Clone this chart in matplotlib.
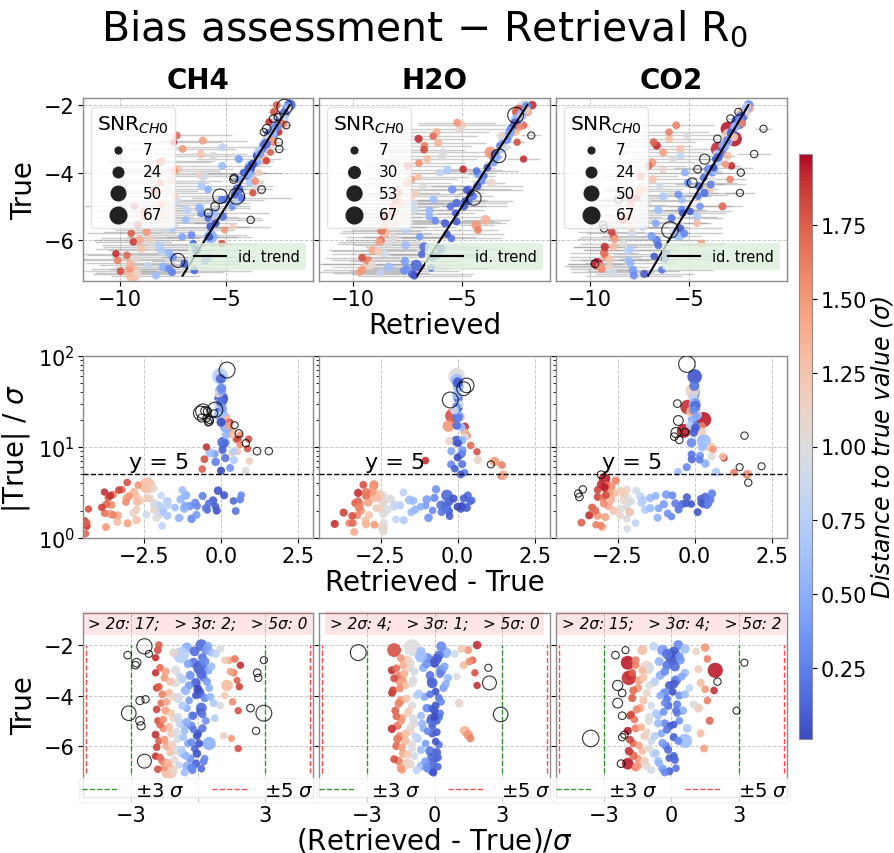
import numpy as np
import matplotlib
matplotlib.use('Agg')
import matplotlib.pyplot as plt
from matplotlib.lines import Line2D
from matplotlib.cm import ScalarMappable

# ---------------- data (true value, normalized deviation (R-T)/sigma, sigma, SNR) ----------------
gases = ["CH4", "H2O", "CO2"]

ch4_true = [-2.0, -2.1, -2.2, -2.3, -2.4, -2.5, -2.6, -2.7, -2.8, -2.9, -3.0, -3.1, -3.2, -3.3, -3.4, -3.5,
            -3.6, -3.7, -3.8, -3.9, -4.0, -4.1, -4.2, -4.3, -4.5, -4.6, -4.8, -5.0, -5.2, -5.5, -5.7, -5.9,
            -6.1, -2.3, -3.0, -4.4, -2.6, -2.5, -2.2, -2.0,
            -2.05, -2.15, -2.25, -2.35, -2.55, -2.65, -2.75, -2.85, -3.05, -3.15, -3.35, -3.45, -3.65, -3.75,
            -4.05, -4.25, -4.65, -4.9, -5.3, -5.6,
            -2.05, -2.4, -2.7, -2.8, -4.2, -4.15, -4.7, -5.0, -5.2, -6.6, -2.6, -3.1, -3.3, -4.5, -4.7, -5.4, -2.35,
            -7.0, -6.95, -6.9, -6.8, -6.7, -6.6, -6.5, -6.4, -6.3, -6.2, -6.1, -6.0, -5.9, -5.8, -5.7, -5.6,
            -5.5, -5.4, -5.3, -5.2, -5.1, -5.0, -4.9, -4.8, -4.6, -4.5, -4.3, -4.1, -3.9, -3.7, -3.5, -3.3,
            -3.1, -2.9, -6.85, -4.0, -3.6,
            -7.05, -6.98, -6.92, -6.85, -6.75, -6.68, -6.62, -6.55, -6.45, -6.38, -6.25, -6.15, -6.05, -5.95,
            -5.85, -5.75, -5.65, -5.55, -5.45, -5.35, -5.25, -5.15, -5.05, -4.95, -4.85, -4.7, -4.55, -4.4,
            -4.25, -4.05, -3.95, -3.8, -3.65, -3.45, -3.25, -3.05, -6.5, -5.9, -4.75, -6.3]
ch4_dev = [0.15, -0.5, 0.35, 0.6, -0.75, 0.2, 1.4, -0.2, 1.9, 0.1, 0.45, 1.6, -0.35, 0.25, 1.75, -0.1,
           1.3, 0.5, -0.55, 0.05, 1.2, 0.3, -0.4, 0.7, 0.15, 1.8, -0.25, 0.35, -0.6, 0.0, 1.5, 0.5,
           1.8, -1.1, -1.0, 1.0, 1.2, -1.9, -1.8, -1.75,
           0.45, 1.0, -0.15, 0.8, 1.65, 0.3, -0.45, 0.6, 1.45, 0.15, -0.7, 0.4, 1.85, 0.0,
           0.55, 1.55, 0.1, 0.75, 0.2, 1.15,
           -2.4, -3.15, -2.75, -2.8, -2.6, -2.35, -3.1, -2.6, -2.55, -2.4, 2.95, 2.65, 2.7, 2.35, 2.95, 2.6, -2.2,
           -1.3, -0.25, 0.15, -0.5, -0.1, -1.6, -0.35, -1.9, -0.7, -1.0, -0.15, -1.4, -0.45, -1.75, -0.9, -0.05,
           -1.2, -0.6, -1.55, -0.3, -0.8, -1.8, -1.1, -0.2, -1.45, -0.5, -1.65, -0.9, -1.3, -1.85, -1.0, -1.5,
           -1.9, -1.7, -1.5, -0.1, -0.4,
           -0.6, -1.1, -1.8, -0.3, -0.85, -1.35, 0.25, -1.05, -1.7, -0.55, -1.25, -0.75, -1.85, -1.15,
           -0.3, -1.5, -0.65, -1.9, -0.95, -0.2, -1.3, -1.7, -0.5, -1.55, -0.9, -1.2, -1.85, -0.7,
           -1.4, -1.1, -1.6, -0.6, -1.75, -1.25, -0.8, -1.45, 0.3, 0.05, 0.2, -0.05]
ch4_sigma = [0.06, 0.05, 0.07, 0.09, 0.04, 0.08, 0.12, 0.10, 0.15, 0.085, 0.11, 0.20, 0.13, 0.11, 0.28, 0.14,
             0.25, 0.33, 0.17, 0.12, 0.45, 0.38, 0.5, 0.6, 0.4, 0.48, 0.7, 0.85, 0.6, 1.0, 0.42, 0.35,
             0.5, 0.06, 0.10, 0.8, 0.3, 0.25, 0.3, 0.35,
             0.05, 0.08, 0.04, 0.1, 0.14, 0.06, 0.09, 0.12, 0.18, 0.1, 0.15, 0.13, 0.3, 0.2,
             0.3, 0.4, 0.5, 0.55, 0.7, 0.8,
             0.08, 0.12, 0.14, 0.15, 0.17, 0.2, 0.19, 0.2, 0.25, 0.28, 0.15, 0.22, 0.3, 0.5, 0.067, 0.6, 0.1,
             1.85, 2.4, 2.7, 2.3, 2.6, 2.2, 2.9, 2.0, 2.5, 2.3, 3.0, 2.2, 2.6, 2.1, 2.4, 2.8,
             2.0, 2.5, 2.3, 3.2, 2.2, 2.4, 2.6, 2.0, 2.5, 2.7, 2.3, 2.2, 2.6, 2.4, 2.1, 2.5,
             2.3, 2.6, 1.8, 1.8, 2.0,
             2.1, 2.0, 1.7, 2.8, 2.3, 2.1, 2.5, 2.6, 1.9, 2.4, 2.2, 2.7, 1.8, 2.3,
             2.6, 2.0, 2.9, 1.9, 2.3, 2.5, 2.1, 2.2, 2.4, 2.0, 2.7, 2.3, 2.1, 2.5,
             2.4, 2.0, 2.2, 2.3, 2.5, 2.2, 2.4, 2.1, 2.2, 2.0, 2.4, 1.9]
ch4_snr = [30, 22, 18, 12, 62, 15, 10, 20, 9, 45, 14, 10, 16, 12, 8, 20,
           30, 11, 18, 25, 9, 13, 10, 12, 26, 9, 14, 11, 16, 12, 8, 40,
           9, 14, 16, 11, 10, 9, 11, 10,
           14, 12, 20, 11, 10, 18, 13, 12, 10, 22, 14, 12, 9, 16,
           11, 10, 12, 11, 13, 10,
           55, 10, 14, 9, 12, 9, 50, 14, 12, 45, 8, 10, 9, 10, 60, 9, 8,
           60, 12, 10, 16, 14, 11, 13, 9, 15, 12, 10, 14, 11, 10, 16, 12,
           13, 10, 11, 14, 18, 9, 12, 10, 13, 11, 10, 20, 12, 10, 14, 11,
           9, 10, 10, 10, 12,
           11, 13, 10, 12, 10, 14, 11, 12, 10, 13, 11, 12, 10, 14,
           11, 12, 10, 11, 13, 10, 12, 11, 14, 10, 12, 11, 10, 13,
           12, 10, 11, 12, 10, 13, 11, 12, 10, 12, 11, 14]

h2o_true = [-2.1, -2.3, -2.0, -2.2, -2.4, -2.5, -2.6, -2.2, -2.7, -2.8, -2.9, -3.0, -3.1, -3.2, -3.3,
            -3.5, -3.7, -3.9, -4.1, -4.3, -4.5, -4.7, -5.0, -3.4, -2.9, -3.6, -5.4, -5.55, -2.45,
            -2.05, -2.15, -2.25, -2.35, -2.55, -2.65, -2.75, -2.85, -3.05, -3.15, -3.25, -3.45, -3.55, -3.85,
            -4.05, -4.25, -4.6, -4.85, -5.2, -5.7,
            -2.3, -2.9, -3.5, -4.75,
            -7.0, -6.9, -6.8, -6.7, -6.6, -6.5, -6.4, -6.3, -6.2, -6.1, -6.0, -5.9, -5.8, -5.7, -5.6,
            -5.5, -5.4, -5.3, -5.2, -5.1, -5.0, -4.9, -4.8, -4.7, -4.6, -4.5, -4.4, -4.2, -4.0, -3.8,
            -3.6, -3.4, -3.2, -3.0, -2.8, -2.6, -6.95, -6.75, -5.95, -6.25, -4.4, -4.9,
            -7.05, -6.97, -6.88, -6.82, -6.72, -6.62, -6.52, -6.42, -6.33, -6.15, -6.05, -5.92, -5.82, -5.72,
            -5.62, -5.52, -5.42, -5.32, -5.22, -5.12, -5.02, -4.92, -4.82, -4.62, -4.52, -4.32, -4.12, -3.92,
            -3.72, -3.52, -3.32, -3.12, -2.92, -2.72, -2.52, -6.45, -5.45, -4.85, -3.95, -6.85]
h2o_dev = [-1.0, 0.5, 1.9, 1.5, 0.2, -0.3, 1.7, -1.8, 0.0, 1.3, -0.5, 0.3, 1.8, -0.2, 0.6,
           -0.1, 0.4, -1.9, 0.2, 1.1, -0.3, 0.25, 0.1, -1.5, -1.1, 1.9, 1.35, 1.5, -0.6,
           0.3, 1.2, -0.6, 0.9, 0.1, 1.55, -0.35, 0.45, -0.9, 0.25, 1.0, -0.15, 0.5, 0.05,
           -0.45, 0.3, 0.0, 0.2, -0.1, 1.6,
           -3.4, 2.4, 2.45, 2.95,
           -0.1, -0.3, -0.6, -1.2, -1.6, 0.05, -0.9, -1.4, -0.2, -1.0, -1.7, -0.4, -1.3, -0.75, -1.55,
           -0.1, -1.1, -0.5, -1.65, -0.9, -0.2, -1.45, -0.6, -1.2, -1.75, -0.35, -1.0, -1.5, -0.8, -1.85,
           -1.3, -0.95, -1.6, -1.9, -1.4, -1.2, -1.45, -0.15, 0.2, 0.1, 0.05, -0.15,
           -0.05, -0.8, -1.5, 0.15, -1.05, -0.4, -1.8, -0.15, -1.2, -0.6, -1.45, -1.0, 0.05, -1.65,
           -0.85, -1.3, -0.3, -1.9, -1.05, -0.55, -1.5, -0.95, -1.7, -1.15, -0.1, -1.6, -1.25, -0.7,
           -1.55, -1.0, -1.8, -1.35, -1.7, -1.05, -1.5, 0.15, 0.1, 0.0, -0.2, -0.35]
h2o_sigma = [0.035, 0.05, 0.12, 0.15, 0.07, 0.09, 0.25, 0.1, 0.1, 0.2, 0.12, 0.14, 0.35, 0.15, 0.2,
             0.3, 0.4, 0.55, 0.5, 0.6, 0.7, 0.9, 1.0, 0.2, 0.25, 0.75, 1.1, 0.8, 0.045,
             0.04, 0.1, 0.06, 0.08, 0.05, 0.2, 0.1, 0.13, 0.12, 0.15, 0.25, 0.2, 0.3, 0.35,
             0.45, 0.5, 0.6, 0.75, 0.9, 0.9,
             0.07, 0.45, 0.08, 0.1,
             2.8, 2.5, 2.6, 2.2, 1.7, 2.9, 2.4, 2.0, 2.7, 2.3, 1.6, 2.6, 2.1, 2.5, 1.9,
             2.8, 2.2, 2.4, 1.8, 2.3, 2.6, 2.0, 2.5, 2.2, 1.9, 2.7, 2.4, 2.1, 2.5, 2.0,
             2.3, 2.6, 2.2, 2.1, 2.4, 2.0, 1.9, 2.3, 2.3, 2.9, 2.1, 2.3,
             2.6, 2.2, 1.8, 2.7, 2.3, 2.5, 1.7, 2.8, 2.1, 2.4, 1.9, 2.2, 2.6, 1.8,
             2.4, 2.0, 2.7, 1.7, 2.3, 2.5, 2.1, 2.4, 1.9, 2.2, 2.6, 2.0, 2.3, 2.5,
             2.1, 2.4, 1.9, 2.2, 2.0, 2.3, 1.8, 2.2, 2.0, 2.2, 1.9, 2.0]
h2o_snr = [67, 25, 14, 12, 18, 16, 10, 45, 20, 12, 14, 22, 9, 15, 13,
           24, 12, 10, 11, 14, 12, 10, 11, 30, 12, 9, 20, 18, 35,
           20, 12, 16, 11, 22, 10, 14, 12, 13, 11, 10, 14, 12, 11,
           12, 10, 11, 12, 10, 11,
           60, 8, 45, 50,
           14, 12, 16, 22, 13, 11, 12, 14, 18, 11, 12, 10, 15, 13, 11,
           12, 16, 10, 12, 14, 11, 13, 12, 10, 11, 14, 12, 15, 10, 12,
           11, 13, 10, 12, 11, 14, 10, 30, 10, 14, 12, 13,
           12, 11, 13, 10, 12, 14, 11, 10, 12, 13, 11, 12, 10, 14,
           11, 12, 10, 13, 11, 12, 10, 14, 11, 12, 10, 13, 11, 12,
           10, 12, 11, 13, 10, 12, 11, 12, 11, 12, 10, 13]

co2_true = [-2.0, -2.1, -2.2, -2.3, -2.7, -3.3, -3.0, -2.5, -2.9, -2.6, -2.8, -3.1, -3.2, -3.4, -3.5,
            -3.6, -3.7, -3.8, -3.9, -4.0, -4.2, -4.4, -4.6, -4.8, -5.0, -5.3, -5.8, -6.1, -2.2, -4.5,
            -2.05, -2.15, -2.25, -2.35, -2.45, -2.55, -2.65, -2.85, -2.95, -3.05, -3.25, -3.45, -3.55, -3.75,
            -3.95, -4.15, -4.35, -4.7, -5.1, -5.5,
            -2.2, -2.4, -3.6, -3.9, -4.3, -4.8, -5.55, -5.65, -6.7, -2.7, -3.45, -4.6, -5.7, -3.0, -4.0,
            -7.0, -6.9, -6.8, -6.7, -6.6, -6.5, -6.4, -6.3, -6.2, -6.0, -5.9, -5.8, -5.6, -5.5, -5.3,
            -5.2, -5.0, -4.8, -4.7, -4.5, -4.3, -4.1, -3.9, -3.7, -3.5, -3.2, -3.0, -2.8, -6.85, -5.65,
            -4.6, -6.15, -5.0,
            -7.05, -6.95, -6.88, -6.78, -6.68, -6.58, -6.48, -6.38, -6.28, -6.1, -5.98, -5.88, -5.75, -5.6,
            -5.45, -5.35, -5.25, -5.1, -4.95, -4.85, -4.65, -4.55, -4.4, -4.2, -4.0, -3.8, -3.6, -3.4,
            -3.1, -2.9, -6.55, -5.8, -5.15, -4.35, -3.85, -6.2, -5.4, -4.75, -3.3, -2.6]
co2_dev = [0.3, 1.5, -0.4, 0.1, -1.95, -1.9, 1.95, 0.05, -1.1, 0.4, -0.2, 0.6, -0.5, 0.2, 1.3,
           -0.1, 0.8, 1.9, -0.3, 0.35, 1.6, -0.15, 0.5, -0.6, 1.7, 0.7, 0.6, 1.45, -1.3, 1.2,
           -0.8, 0.6, 1.1, -0.2, 0.35, 1.6, -0.55, 0.15, 1.2, -0.3, 0.45, -0.75, 0.1, 1.5,
           0.6, -0.2, 1.0, 0.25, -0.3, 1.3,
           -2.05, -2.5, -2.4, -2.2, -2.4, -2.2, -2.1, -2.2, -2.25, 3.25, 2.05, 2.9, -3.6, -5.6, 5.4,
           -0.1, -0.4, -1.1, -1.95, -0.6, -1.5, 0.1, -0.8, -1.3, -0.25, -1.7, -0.9, -1.2, -0.45, -1.6,
           -0.05, -1.0, -1.85, -0.7, -1.4, -0.3, -1.75, -1.1, -1.5, -0.8, -1.9, -1.3, -1.6, -1.6, 0.1,
           0.2, -0.15, 0.35,
           -0.3, -0.9, 0.2, -1.5, -0.55, -1.2, -0.1, -1.7, -0.7, -1.0, -1.45, -0.4, -1.85, -0.75,
           -1.1, -0.2, -1.35, -0.6, -1.65, -1.0, -0.35, -1.55, -0.9, -1.25, -0.5, -1.7, -1.0, -1.45,
           -1.75, -0.95, 0.15, 0.3, 0.1, 0.25, 0.05, -1.9, -1.95, -1.8, -1.25, -1.6]
co2_sigma = [0.05, 0.1, 0.06, 0.08, 0.18, 0.12, 0.15, 0.042, 0.07, 0.1, 0.12, 0.14, 0.16, 0.2, 0.35,
             0.25, 0.3, 0.5, 0.35, 0.5, 0.8, 0.6, 0.7, 0.9, 1.0, 1.0, 0.5, 1.2, 0.09, 0.45,
             0.06, 0.07, 0.1, 0.05, 0.08, 0.15, 0.09, 0.1, 0.2, 0.12, 0.15, 0.2, 0.22, 0.4,
             0.4, 0.5, 0.55, 0.65, 0.85, 0.7,
             0.15, 0.2, 0.25, 0.3, 0.22, 1.7, 1.8, 1.65, 1.35, 0.45, 0.85, 0.75, 0.07, 0.1, 0.3,
             2.5, 2.3, 2.0, 1.5, 2.4, 1.8, 2.7, 2.2, 2.0, 2.5, 1.7, 2.3, 1.9, 2.6, 1.8,
             2.2, 2.4, 1.7, 2.3, 2.0, 2.5, 1.9, 2.2, 2.1, 2.4, 1.8, 2.3, 2.0, 1.6, 2.1,
             2.0, 2.6, 1.6,
             2.4, 2.1, 2.6, 1.8, 2.3, 2.0, 2.7, 1.7, 2.4, 2.2, 1.9, 2.5, 1.7, 2.3,
             2.1, 2.6, 2.0, 2.4, 1.8, 2.2, 2.5, 1.9, 2.3, 2.1, 2.4, 1.9, 2.2, 2.0,
             2.1, 2.3, 2.3, 1.9, 2.1, 1.8, 2.0, 1.6, 1.5, 1.6, 1.7, 1.9]
co2_snr = [20, 14, 25, 30, 45, 50, 55, 50, 45, 15, 18, 13, 16, 20, 12,
           14, 11, 10, 18, 12, 10, 13, 14, 11, 12, 15, 48, 11, 20, 16,
           15, 18, 11, 22, 14, 10, 16, 20, 11, 14, 12, 13, 15, 10,
           12, 11, 12, 10, 12, 11,
           8, 10, 22, 10, 20, 10, 9, 9, 10, 8, 9, 8, 65, 10, 9,
           12, 14, 11, 30, 13, 10, 12, 15, 11, 13, 10, 12, 14, 11, 12,
           10, 13, 11, 12, 14, 10, 12, 11, 13, 10, 12, 11, 10, 12, 12,
           11, 12, 10,
           11, 12, 10, 13, 11, 12, 10, 14, 11, 12, 10, 13, 11, 12,
           10, 12, 11, 13, 10, 12, 11, 12, 10, 13, 11, 12, 10, 12,
           11, 10, 12, 11, 10, 12, 11, 13, 12, 10, 12, 11]

snr_legend_ch4 = [7, 24, 50, 67]
snr_legend_h2o = [7, 30, 53, 67]
snr_legend_co2 = [7, 24, 50, 67]

datasets = [
    (ch4_true, ch4_dev, ch4_sigma, ch4_snr, snr_legend_ch4),
    (h2o_true, h2o_dev, h2o_sigma, h2o_snr, snr_legend_h2o),
    (co2_true, co2_dev, co2_sigma, co2_snr, snr_legend_co2),
]

row1_xlims = [(-11.75, -0.9), (-11.56, -0.96), (-11.7, -0.05)]

# ---------------- figure ----------------
W, H = 895, 854
fig = plt.figure(figsize=(W / 100, H / 100), dpi=100)


def box(x0, y0, x1, y1):
    return [x0 / W, 1 - y1 / H, (x1 - x0) / W, (y1 - y0) / H]


cols = [(83, 313), (319, 550), (556, 787)]
rows = [(99, 282), (357, 539), (614, 798)]

cmap = plt.get_cmap('coolwarm')
norm = plt.Normalize(0.01, 1.99)
TICK = 15
LAB = 20
spine_col = '#8c8c8c'


def style(ax, show_y):
    for s in ax.spines.values():
        s.set_color(spine_col)
        s.set_linewidth(1.0)
    ax.tick_params(labelsize=TICK, pad=2.5)
    ax.grid(True, ls='--', color='#c8c8c8', lw=0.7)
    ax.set_axisbelow(True)
    if not show_y:
        ax.tick_params(labelleft=False)


def size_of(snr):
    return 2.0 * np.asarray(snr, float) + 10


for j, (gas, (T, dev, sig, snr, leg_vals)) in enumerate(zip(gases, datasets)):
    T = np.asarray(T, float)
    dev = np.asarray(dev, float)
    sig = np.asarray(sig, float)
    snr = np.asarray(snr, float)
    R = T + dev * sig
    diff = R - T
    ratio = np.abs(T) / sig
    dist = np.abs(dev)
    inl = dist <= 2
    out = ~inl
    sz = size_of(snr)
    x0, x1 = cols[j]

    # ---- row 1: Retrieved vs True ----
    ax = fig.add_axes(box(x0, rows[0][0], x1, rows[0][1]))
    style(ax, j == 0)
    ax.errorbar(R, T, xerr=sig, fmt='none', ecolor='gray', alpha=0.4, lw=1.0, zorder=1)
    ax.scatter(R[inl], T[inl], c=dist[inl], cmap=cmap, norm=norm, s=sz[inl], alpha=0.9,
               edgecolors='none', zorder=2)
    ax.scatter(R[out], T[out], s=sz[out], facecolors='none', edgecolors='k', linewidths=0.8,
               alpha=0.8, zorder=3)
    tmin, tmax = T.min(), T.max()
    idl, = ax.plot([tmin, tmax], [tmin, tmax], color='k', lw=1.5, zorder=4)
    ax.set_xlim(*row1_xlims[j])
    ax.set_ylim(-7.21, -1.79)
    ax.set_xticks([-10, -5])
    ax.set_yticks([-6, -4, -2])
    ax.set_title(gas, fontsize=20, fontweight='bold', pad=7)
    if j == 0:
        ax.set_ylabel('True', fontsize=LAB)
    if j == 1:
        ax.set_xlabel('Retrieved', fontsize=LAB, labelpad=1)
    handles = [ax.scatter([], [], s=size_of(v), color='#222222') for v in leg_vals]
    leg1 = ax.legend(handles, [str(v) for v in leg_vals], title='SNR$_{CH0}$', loc='upper left',
                     fontsize=11, title_fontsize=14.5, framealpha=0.8, edgecolor='#dddddd',
                     labelspacing=0.45, borderpad=0.4, handletextpad=0.6,
                     bbox_to_anchor=(0.0, 0.99))
    ax.add_artist(leg1)
    ax.legend([idl], ['id. trend'], loc='lower right', fontsize=10.5, framealpha=0.8,
              facecolor='#dcefdc', edgecolor='none', handlelength=2.2,
              bbox_to_anchor=(1.0, 0.02))

    # ---- row 2: Retrieved - True vs |True|/sigma ----
    ax = fig.add_axes(box(x0, rows[1][0], x1, rows[1][1]))
    ax.set_yscale('log')
    style(ax, j == 0)
    ax.scatter(diff[inl], ratio[inl], c=dist[inl], cmap=cmap, norm=norm, s=sz[inl], alpha=0.9,
               edgecolors='none', zorder=2)
    ax.scatter(diff[out], ratio[out], s=sz[out], facecolors='none', edgecolors='k', linewidths=0.8,
               alpha=0.8, zorder=3)
    ax.axhline(5, color='k', ls='--', lw=1.0, zorder=4)
    ax.text(-3.0, 5.25, 'y = 5', fontsize=16, ha='left', va='bottom', zorder=5)
    ax.set_xlim(-4.5, 3.0)
    ax.set_ylim(1, 100)
    ax.set_xticks([-2.5, 0.0, 2.5])
    ax.set_xticklabels(['\u22122.5', '0.0', '2.5'])
    if j == 0:
        ax.set_ylabel('|True| / $\\sigma$', fontsize=LAB)
    if j == 1:
        ax.set_xlabel('Retrieved - True', fontsize=LAB, labelpad=1)

    # ---- row 3: (Retrieved - True)/sigma vs True ----
    ax = fig.add_axes(box(x0, rows[2][0], x1, rows[2][1]))
    style(ax, j == 0)
    ax.scatter(dev[inl], T[inl], c=dist[inl], cmap=cmap, norm=norm, s=sz[inl], alpha=0.9,
               edgecolors='none', zorder=2)
    ax.scatter(dev[out], T[out], s=sz[out], facecolors='none', edgecolors='k', linewidths=0.8,
               alpha=0.8, zorder=3)
    for xv in (-3, 3):
        ax.vlines(xv, tmin, tmax, colors='green', linestyles='--', lw=1.0, alpha=0.8, zorder=1)
    for xv in (-5, 5):
        ax.vlines(xv, tmin, tmax, colors='red', linestyles='--', lw=1.0, alpha=0.7, zorder=1)
    ax.set_xlim(-5.15, 5.15)
    ax.set_ylim(-8.02, -0.73)
    ax.set_yticks([-6, -4, -2])
    ax.set_xticks([-3, 0, 3])
    if j == 0:
        ax.set_xticklabels(['\u22123', '', '3'])
        ax.set_ylabel('True', fontsize=LAB)
    else:
        ax.set_xticklabels(['\u22123', '0', '3'])
    if j == 1:
        ax.set_xlabel('(Retrieved - True)/$\\sigma$', fontsize=LAB, labelpad=0)
    n2 = int(np.sum(dist > 2))
    n3 = int(np.sum(dist > 3))
    n5 = int(np.sum(dist > 5))
    ax.text(0.5, 0.985, f'> 2\u03c3: {n2};   > 3\u03c3: {n3};   > 5\u03c3: {n5}',
            transform=ax.transAxes, ha='center', va='top', fontsize=11, fontstyle='italic',
            bbox=dict(boxstyle='square,pad=0.3', facecolor='red', alpha=0.1, edgecolor='none'),
            zorder=6)
    lh = [Line2D([0], [0], color='green', ls='--', lw=1.0, alpha=0.8),
          Line2D([0], [0], color='red', ls='--', lw=1.0, alpha=0.7)]
    ax.legend(lh, ['\u00b13 $\\sigma$', '\u00b15 $\\sigma$'], loc='lower center', ncol=2,
              bbox_to_anchor=(0.5, -0.03),
              fontsize=14, handlelength=1.9, handletextpad=0.8, columnspacing=1.4,
              borderpad=0.15, borderaxespad=0.0, framealpha=0.8, edgecolor='#f0f0f0')

# ---------------- colorbar ----------------
cax = fig.add_axes(box(799, 155, 812, 740))
cb = fig.colorbar(ScalarMappable(norm=norm, cmap=cmap), cax=cax,
                  ticks=[0.25, 0.5, 0.75, 1.0, 1.25, 1.5, 1.75])
cb.ax.tick_params(labelsize=TICK, pad=2.5)
cb.outline.set_edgecolor(spine_col)
cb.set_label('Distance to true value ($\\sigma$)', fontsize=17, fontstyle='italic', labelpad=2)

# ---------------- title ----------------
fig.text(0.474, 1 - 40 / H, 'Bias assessment \u2212 Retrieval R$_0$', ha='center', va='baseline',
         fontsize=29.5)

fig.savefig('out.png', dpi=100)
